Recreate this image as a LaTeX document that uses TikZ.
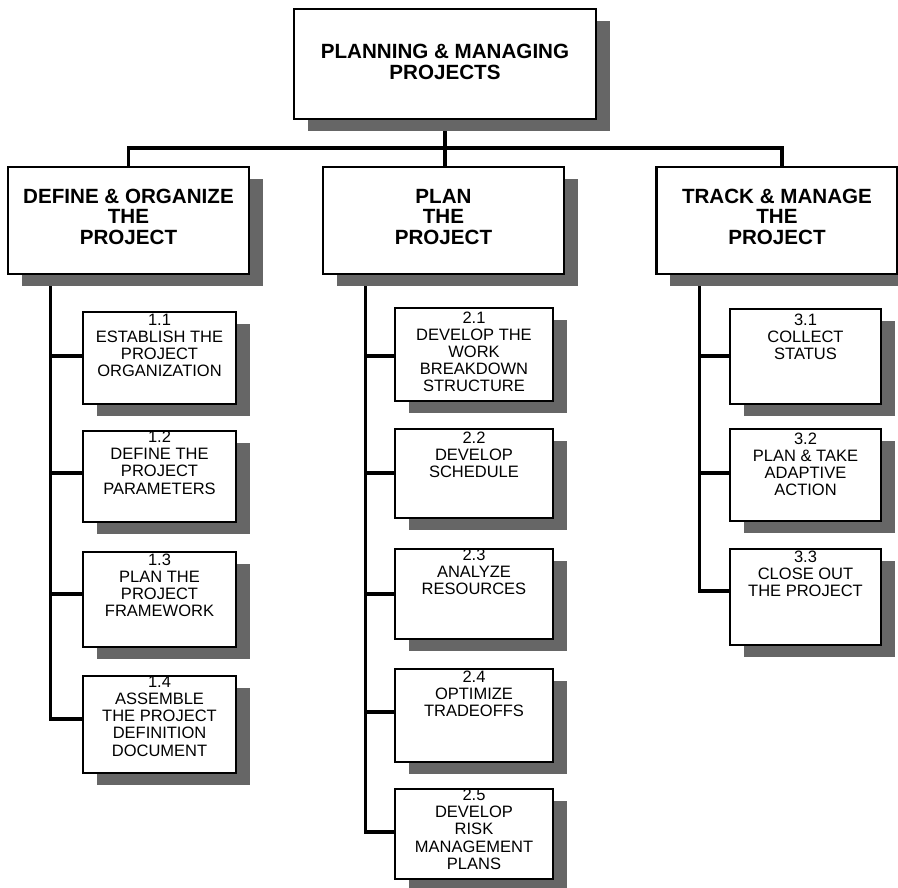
\documentclass[tikz,border=0pt]{standalone}
\usepackage{fontspec}
\setmainfont{Liberation Sans}
\usetikzlibrary{shadows,calc,backgrounds}
\definecolor{shadowgray}{RGB}{102,102,102}
\newcommand{\bxfont}{\fontsize{20.6}{20.5}\selectfont\bfseries}
\newcommand{\sbfont}{\fontsize{16.5}{17.2}\selectfont}
\newcommand{\btxt}[4]{\parbox[c][#2pt][t]{#1pt}{\centering\rule{0pt}{#3pt}#4}}
\tikzset{
  shd/.style={drop shadow={shadow xshift=13.5pt, shadow yshift=-12pt, fill=shadowgray, opacity=1}},
  bigbox/.style={draw, line width=2.8pt, fill=white, inner sep=0pt, font=\bxfont, shd},
  subbox/.style={draw, line width=2.6pt, fill=white, inner sep=0pt, font=\sbfont, shd},
  conn/.style={line width=3.2pt}
}
\begin{document}
\begin{tikzpicture}[x=1pt,y=-1pt]
\useasboundingbox (0,0) rectangle (898,888);
% top
\node[bigbox] (T) at (445,64) {\btxt{302}{110}{50}{PLANNING \& MANAGING\\PROJECTS}};
% level 2
\node[bigbox] (L) at (128.5,220.5) {\btxt{241}{107}{36}{DEFINE \& ORGANIZE\\THE\\PROJECT}};
\node[bigbox] (M) at (443.5,220.5) {\btxt{241}{107}{36}{PLAN\\THE\\PROJECT}};
\node[bigbox] (R) at (777,220.5) {\btxt{241}{107}{36}{TRACK \& MANAGE\\THE\\PROJECT}};
% column 1
\node[subbox] (b11) at (159.5,358) {\btxt{153}{92}{13}{1.1\\ESTABLISH THE\\PROJECT\\ORGANIZATION}};
\node[subbox] (b12) at (159.5,476.5) {\btxt{153}{91}{11}{1.2\\DEFINE THE\\PROJECT\\PARAMETERS}};
\node[subbox] (b13) at (159.5,599.5) {\btxt{153}{95}{13}{1.3\\PLAN THE\\PROJECT\\FRAMEWORK}};
\node[subbox] (b14) at (159.5,724.5) {\btxt{153}{97}{11}{1.4\\ASSEMBLE\\THE PROJECT\\DEFINITION\\DOCUMENT}};
% column 2
\node[subbox] (b21) at (474,354.5) {\btxt{158}{93}{15}{2.1\\DEVELOP THE\\WORK\\BREAKDOWN\\STRUCTURE}};
\node[subbox] (b22) at (474,473.5) {\btxt{158}{89}{14}{2.2\\DEVELOP\\SCHEDULE}};
\node[subbox] (b23) at (474,594) {\btxt{158}{90}{11}{2.3\\ANALYZE\\RESOURCES}};
\node[subbox] (b24) at (474,715.5) {\btxt{158}{93}{13}{2.4\\OPTIMIZE\\TRADEOFFS}};
\node[subbox] (b25) at (474,834) {\btxt{158}{90}{10}{2.5\\DEVELOP\\RISK\\MANAGEMENT\\PLANS}};
% column 3
\node[subbox] (b31) at (805.5,356.5) {\btxt{151}{95}{16}{3.1\\COLLECT\\STATUS}};
\node[subbox] (b32) at (805.5,475) {\btxt{151}{92}{15}{3.2\\PLAN \& TAKE\\ADAPTIVE\\ACTION}};
\node[subbox] (b33) at (805.5,597) {\btxt{151}{96}{13}{3.3\\CLOSE OUT\\THE PROJECT}};
% connector points
\coordinate (hy) at (0,148);
\coordinate (rc) at ([xshift=5pt]R.north);
\coordinate (lb) at ([xshift=44pt]L.south west);
\coordinate (mb) at ([xshift=44pt]M.south west);
\coordinate (rb) at ([xshift=44pt]R.south west);
\coordinate (c11) at ([yshift=2pt]b11.west);
\coordinate (c12) at ([yshift=3.5pt]b12.west);
\coordinate (c13) at ([yshift=5.5pt]b13.west);
\coordinate (c14) at ([yshift=5.5pt]b14.west);
\coordinate (c21) at ([yshift=-1.5pt]b21.west);
\coordinate (c22) at ([yshift=0.5pt]b22.west);
\coordinate (c23) at (b23.west);
\coordinate (c24) at ([yshift=3.5pt]b24.west);
\coordinate (c25) at ([yshift=2pt]b25.west);
\coordinate (c31) at ([yshift=0.5pt]b31.west);
\coordinate (c32) at ([yshift=2pt]b32.west);
\coordinate (c33) at ([yshift=6pt]b33.west);
\begin{scope}[on background layer]
\draw[conn] (T.south) -- (T.south |- M.north);
\draw[conn] (L.north) |- (rc |- hy) -- (rc);
\draw[conn] (lb) |- (c14);
\draw[conn] (c11 -| lb) -- (c11);
\draw[conn] (c12 -| lb) -- (c12);
\draw[conn] (c13 -| lb) -- (c13);
\draw[conn] (mb) |- (c25);
\draw[conn] (c21 -| mb) -- (c21);
\draw[conn] (c22 -| mb) -- (c22);
\draw[conn] (c23 -| mb) -- (c23);
\draw[conn] (c24 -| mb) -- (c24);
\draw[conn] (rb) |- (c33);
\draw[conn] (c31 -| rb) -- (c31);
\draw[conn] (c32 -| rb) -- (c32);
\end{scope}
\end{tikzpicture}
\end{document}
